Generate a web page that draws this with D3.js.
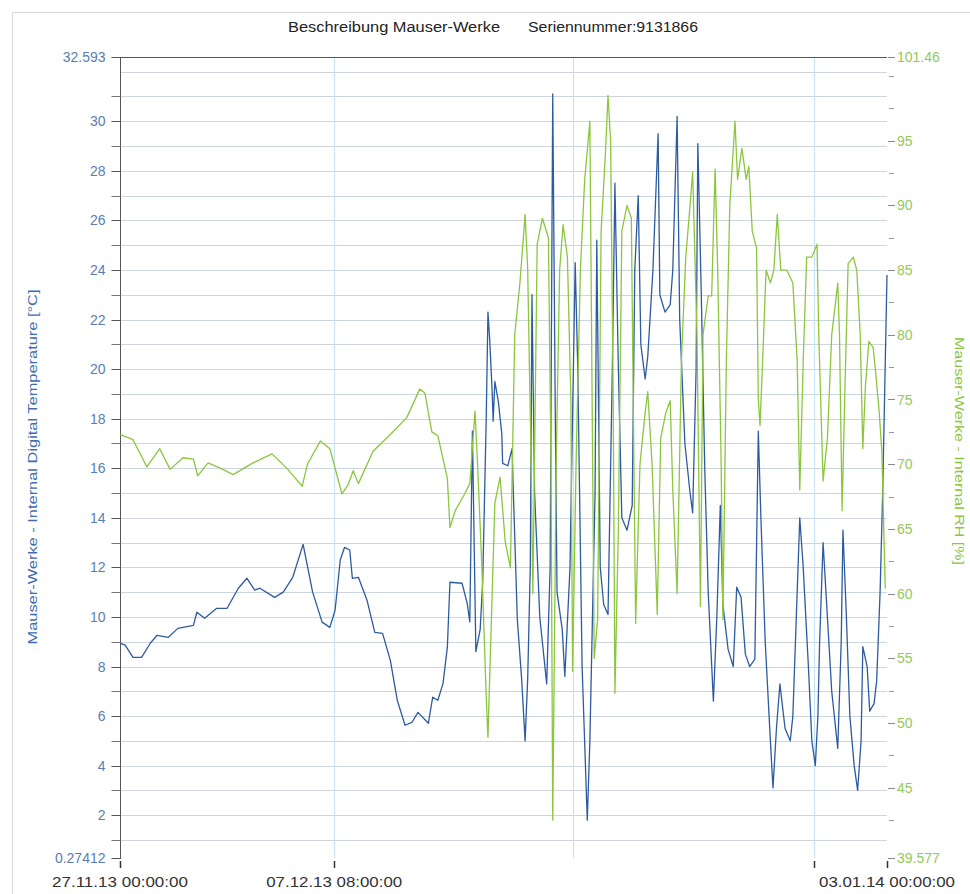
<!DOCTYPE html>
<html><head><meta charset="utf-8">
<script src="https://cdn.jsdelivr.net/npm/d3@7/dist/d3.min.js"></script>
<style>html,body{margin:0;padding:0;background:#fff;}svg{display:block;}</style>
</head><body>
<svg id="chart" width="970" height="894"></svg>
<script>
// ---------- DATA ----------
const titleLeft = "Beschreibung Mauser-Werke";
const titleRight = "Seriennummer:9131866";
const leftAxisTitle = "Mauser-Werke - Internal Digital Temperature [°C]";
const rightAxisTitle = "Mauser-Werke - Internal RH [%]";

const startTime = Date.UTC(2013, 10, 27, 0, 0, 0);
const endTime = Date.UTC(2014, 0, 3, 0, 0, 0);
const tempMin = 0.27412, tempMax = 32.593;
const rhMin = 39.577, rhMax = 101.46;

const tempTickLabels = ["32.593","30","28","26","24","22","20","18","16","14","12","10","8","6","4","2","0.27412"];
const tempTickValues = [32.593,30,28,26,24,22,20,18,16,14,12,10,8,6,4,2,0.27412];
const tempMinorTicks = [31,29,27,25,23,21,19,17,15,13,11,9,7,5,3,1];
const rhTickLabels = ["101.46","95","90","85","80","75","70","65","60","55","50","45","39.577"];
const rhTickValues = [101.46,95,90,85,80,75,70,65,60,55,50,45,39.577];
const rhMinorTicks = [100,97.5,92.5,87.5,82.5,77.5,72.5,67.5,62.5,57.5,52.5,47.5,42.5];
const gridTempValues = [1,2,3,4,5,6,7,8,9,10,11,12,13,14,15,16,17,18,19,20,21,22,23,24,25,26,27,28,29,30,31,32];

// hours since 27.11.13 00:00:00
const xTickHours = [0, 248, 804, 888];
const xTickLabels = ["27.11.13 00:00:00", "07.12.13 08:00:00", "", "03.01.14 00:00:00"];
const vGridHours = [248, 524, 804];

const tempHours = [0,6,15,25,35,43,56,67,85,89,98,112,124,137,147,156,162,179,189,200,212,223,234,243,249,255,260,266,269,276,286,295,304,313,321,330,338,345,357,362,368,374,379,382,396,402,405,408,412,417,420,424,426,428,431,432,434,438,442,443,449,454,455,460,465,469,472,475,477,480,486,494,498,501,504,506,512,515,521,527,530,535,541,544,550,552,556,560,565,570,573,577,581,587,593,596,600,603,608,611,617,623,625,631,637,640,645,648,654,660,663,667,669,673,677,681,687,691,695,698,704,710,714,719,724,729,735,739,742,747,753,756,760,764,770,776,779,784,787,791,797,801,805,808,810,814,819,824,831,835,837,841,845,850,854,858,860,865,868,873,876,880,883,888];
const tempValues = [8.94,8.86,8.37,8.37,8.94,9.26,9.18,9.54,9.66,10.19,9.95,10.35,10.35,11.16,11.56,11.08,11.16,10.79,11.0,11.6,12.93,11.0,9.79,9.58,10.27,12.3,12.81,12.7,11.56,11.6,10.67,9.38,9.34,8.25,6.64,5.63,5.75,6.15,5.71,6.76,6.64,7.32,8.78,11.4,11.36,10.55,9.8,17.5,8.6,9.5,11.5,18,22.3,21.2,19.0,17.9,19.5,18.7,17.4,16.2,16.1,16.8,15.5,9.9,7.5,5.0,7.5,12,23.0,15,10,7.3,12,31.1,18,11,9.5,7.6,12,24.3,20,8,1.8,5,15,25.2,12,10.5,10.1,20,27.5,20,14,13.5,14.5,24,27,21,19.6,20.5,24,29.5,23,22.3,22.6,24,30.2,22,17,15,14.2,20,29.1,23,16,11,6.6,10,14.5,10.5,8.7,8.0,11.2,10.8,8.5,8.0,8.3,17.5,14,9,5,3.1,5.5,7.3,5.5,5.0,6.0,11,14,12,8,5,4.0,6,9,13,10,7,4.7,9,13.5,10,6,4,3.0,5,8.8,8,6.2,6.5,7.4,11,15,23.8];

const rhHours = [0,15,31,46,58,73,85,90,102,116,131,154,176,193,211,217,232,243,257,264,270,276,293,313,332,347,353,361,368,379,382,388,399,405,411,414,419,424,426,430,434,440,446,452,457,463,469,472,476,478,483,489,496,499,501,505,509,513,518,522,524,528,533,538,544,546,549,553,557,562,565,568,571,573,577,581,587,592,595,597,602,608,611,616,622,626,632,637,640,645,650,655,660,663,668,672,675,681,685,689,692,696,698,702,706,712,715,720,725,728,732,737,739,741,744,748,753,757,761,765,772,779,784,787,791,795,801,807,809,814,819,824,831,833,836,839,843,849,853,857,860,863,867,872,875,879,882,886];
const rhValues = [72.3,71.9,69.8,71.2,69.6,70.5,70.4,69.1,70.1,69.7,69.2,70.1,70.8,69.7,68.3,70.0,71.8,71.2,67.7,68.4,69.5,68.5,71.0,72.3,73.6,75.8,75.5,72.5,72.2,68.9,65.1,66.4,67.7,68.5,74.1,70,62,52,48.9,58,67,69,64,62,80,84,89.3,85.1,70,60,87,89,87.5,70,42.5,70,85,88.5,86,75,54,70,85,92,96.5,80,55,58,88,94,98.5,95,75,52.3,65,88,90,89,70,57.7,70,74,75.6,70,58.4,72,74,74.9,68,60,78,86,90,92.6,80,59,80,83,83,92.8,85,70,58,78,90,96.5,92,94.4,92,93,88,86.7,75,73,78,85,84,85,89.3,85,85,84,78,68,78,86,86,87,80,68.7,72,80,84,80,66.4,75,85.5,86,85,80,71.2,76,79.5,79,77,74,71,60.4];

// ---------- LAYOUT ----------
const plotLeft = 120, plotRight = 887, plotTop = 57, plotBottom = 858;
const svg = d3.select("#chart");
const H = 3600 * 1000;
const toDate = h => new Date(startTime + h * H);

const x = d3.scaleUtc().domain([new Date(startTime), new Date(endTime)]).range([plotLeft, plotRight]);
const yL = d3.scaleLinear().domain([tempMin, tempMax]).range([plotBottom, plotTop]);
const yR = d3.scaleLinear().domain([rhMin, rhMax]).range([plotBottom, plotTop]);

const font = "'Liberation Sans', Arial, sans-serif";

// outer frame
svg.append("rect").attr("x", 12.5).attr("y", 12.5).attr("width", 980).attr("height", 900)
  .attr("fill", "none").attr("stroke", "#d9d9d9");

// title
svg.append("text").attr("x", 288).attr("y", 32).attr("font-family", font).attr("font-size", 14)
  .attr("fill", "#222").attr("textLength", 212).attr("lengthAdjust", "spacingAndGlyphs").text(titleLeft);
svg.append("text").attr("x", 528).attr("y", 32).attr("font-family", font).attr("font-size", 14)
  .attr("fill", "#222").attr("textLength", 170).attr("lengthAdjust", "spacingAndGlyphs").text(titleRight);

// horizontal grid
svg.append("g").selectAll("line").data(gridTempValues).join("line")
  .attr("x1", plotLeft).attr("x2", plotRight)
  .attr("y1", d => Math.round(yL(d)) + 0.5).attr("y2", d => Math.round(yL(d)) + 0.5)
  .attr("stroke", "#cdd6df").attr("stroke-width", 1);

// vertical grid
svg.append("g").selectAll("line").data(vGridHours).join("line")
  .attr("x1", d => Math.round(x(toDate(d))) + 0.5).attr("x2", d => Math.round(x(toDate(d))) + 0.5)
  .attr("y1", plotTop).attr("y2", plotBottom)
  .attr("stroke", "#c4e2f2").attr("stroke-width", 1);

// top line
svg.append("line").attr("x1", plotLeft).attr("x2", plotRight).attr("y1", plotTop + 0.5).attr("y2", plotTop + 0.5)
  .attr("stroke", "#555");

// left axis
const gL = svg.append("g").attr("transform", `translate(${plotLeft + 0.5},0)`);
gL.append("line").attr("y1", plotTop).attr("y2", plotBottom + 1).attr("stroke", "#555");
gL.selectAll(".maj").data(tempTickValues).join("line").attr("class","maj")
  .attr("x1", -9).attr("x2", 0).attr("y1", d => Math.round(yL(d)) + 0.5).attr("y2", d => Math.round(yL(d)) + 0.5)
  .attr("stroke", "#555");
gL.selectAll(".min").data(tempMinorTicks).join("line").attr("class","min")
  .attr("x1", -9).attr("x2", 0).attr("y1", d => Math.round(yL(d)) + 0.5).attr("y2", d => Math.round(yL(d)) + 0.5)
  .attr("stroke", "#777");
gL.selectAll("text").data(tempTickValues).join("text")
  .attr("x", -15).attr("y", d => yL(d)).attr("dy", "0.36em").attr("text-anchor", "end")
  .attr("font-family", font).attr("font-size", 14).attr("fill", "#5a7db4")
  .text((d, i) => tempTickLabels[i]);

// right axis
const gR = svg.append("g").attr("transform", `translate(${plotRight},0)`);
gR.selectAll(".maj").data(rhTickValues).join("line").attr("class","maj")
  .attr("x1", 1).attr("x2", 8).attr("y1", d => Math.round(yR(d)) + 0.5).attr("y2", d => Math.round(yR(d)) + 0.5)
  .attr("stroke", "#888");
gR.selectAll(".min").data(rhMinorTicks).join("line").attr("class","min")
  .attr("x1", 2).attr("x2", 7).attr("y1", d => Math.round(yR(d)) + 0.5).attr("y2", d => Math.round(yR(d)) + 0.5)
  .attr("stroke", "#999");
gR.selectAll("text").data(rhTickValues).join("text")
  .attr("x", 10).attr("y", d => yR(d)).attr("dy", "0.36em").attr("text-anchor", "start")
  .attr("font-family", font).attr("font-size", 14).attr("fill", "#93c85a")
  .text((d, i) => rhTickLabels[i]);

// bottom axis
const gB = svg.append("g");
gB.selectAll("line").data(xTickHours).join("line")
  .attr("x1", d => Math.round(x(toDate(d))) + 0.5).attr("x2", d => Math.round(x(toDate(d))) + 0.5)
  .attr("y1", 861).attr("y2", 868).attr("stroke", "#333").attr("stroke-width", 1.5);
gB.selectAll("text").data(xTickHours).join("text")
  .attr("x", d => x(toDate(d))).attr("y", 887).attr("text-anchor", "middle")
  .attr("font-family", font).attr("font-size", 14).attr("fill", "#333")
  .attr("textLength", (d, i) => xTickLabels[i] ? 136 : null).attr("lengthAdjust", "spacingAndGlyphs")
  .text((d, i) => xTickLabels[i]);

// axis titles
svg.append("text").attr("transform", "translate(37,467) rotate(-90)").attr("text-anchor", "middle")
  .attr("font-family", font).attr("font-size", 13).attr("fill", "#3f6db0")
  .attr("textLength", 355).attr("lengthAdjust", "spacingAndGlyphs").text(leftAxisTitle);
svg.append("text").attr("transform", "translate(955,451) rotate(90)").attr("text-anchor", "middle")
  .attr("font-family", font).attr("font-size", 12).attr("fill", "#8cc63f")
  .attr("textLength", 228).attr("lengthAdjust", "spacingAndGlyphs").text(rightAxisTitle);

// series
const tempData = tempHours.map((h, i) => [toDate(h), tempValues[i]]);
const rhData = rhHours.map((h, i) => [toDate(h), rhValues[i]]);

svg.append("path").datum(tempData)
  .attr("d", d3.line().x(d => x(d[0])).y(d => yL(d[1])))
  .attr("fill", "none").attr("stroke", "#2d5b9f").attr("stroke-width", 1.3).attr("stroke-linejoin", "round");
svg.append("path").datum(rhData)
  .attr("d", d3.line().x(d => x(d[0])).y(d => yR(d[1])))
  .attr("fill", "none").attr("stroke", "#8cc63f").attr("stroke-width", 1.3).attr("stroke-linejoin", "round");
</script>
</body></html>
